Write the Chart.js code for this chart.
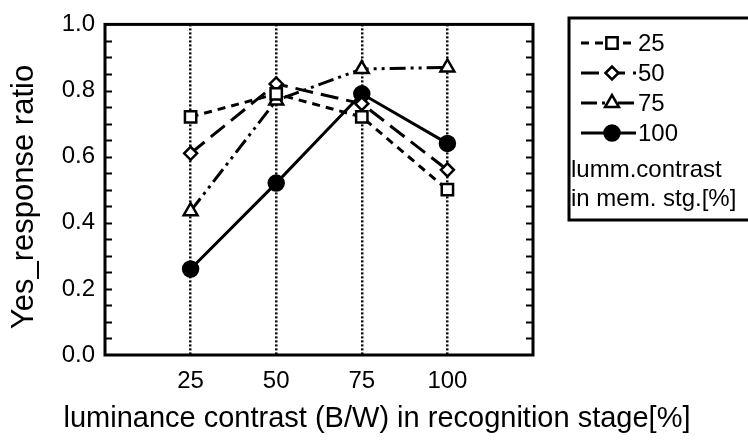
<!DOCTYPE html>
<html lang="en">
<head>
  <meta charset="UTF-8">
  <title>Yes_response ratio vs luminance contrast</title>
  <script src="https://cdn.jsdelivr.net/npm/chart.js@4.4.0/dist/chart.umd.min.js"></script>
  <style>
    html, body { margin: 0; padding: 0; background: #fff; }
    #wrap { width: 748px; height: 442px; }
  </style>
</head>
<body>
  <div id="wrap"><canvas id="chart" width="748" height="442"></canvas></div>

  <script>
    // Recognition-stage contrast (x) and one series per memory-stage contrast
    const xValues = [25, 50, 75, 100];
    const xTickValues = [25, 50, 75, 100];
    const series25 = [0.72, 0.79, 0.72, 0.50];
    const series50 = [0.61, 0.82, 0.76, 0.56];
    const series75 = [0.435, 0.77, 0.865, 0.87];
    const series100 = [0.26, 0.52, 0.79, 0.64];
    const seriesLabels = ['25', '50', '75', '100'];
    const legendNote = ['lumm.contrast', 'in mem. stg.[%]'];
    const xTitle = 'luminance contrast (B/W) in recognition stage[%]';
    const yTitle = 'Yes_response ratio';

    const FONT = '"Liberation Sans", Arial, Helvetica, sans-serif';

    function toPoints(ys) {
      return xValues.map((x, i) => ({ x: x, y: ys[i] }));
    }

    const datasets = [
      { label: seriesLabels[0], data: toPoints(series25), borderDash: [8, 6],
        pointStyle: 'rect', pointRadius: 8, pointBackgroundColor: '#fff' },
      { label: seriesLabels[1], data: toPoints(series50), borderDash: [18, 8],
        pointStyle: 'rectRot', pointRadius: 6.5, pointBackgroundColor: '#fff' },
      { label: seriesLabels[2], data: toPoints(series75), borderDash: [16, 5, 3, 5, 3, 5],
        pointStyle: 'triangle', pointRadius: 8, pointBackgroundColor: '#fff' },
      { label: seriesLabels[3], data: toPoints(series100), borderDash: [],
        pointStyle: 'circle', pointRadius: 7.5, pointBackgroundColor: '#000' }
    ].map(d => Object.assign({
      borderColor: '#000',
      borderWidth: 3,
      pointBorderColor: '#000',
      pointBorderWidth: 2.5,
      pointHoverRadius: d.pointRadius,
      tension: 0,
      fill: false
    }, d));

    // frame, inward y ticks, axis titles and the boxed legend
    const decorPlugin = {
      id: 'decor',
      beforeDraw(chart) {
        const ctx = chart.ctx;
        ctx.save();
        ctx.fillStyle = '#fff';
        ctx.fillRect(0, 0, chart.width, chart.height);
        ctx.restore();
      },
      afterDraw(chart) {
        const ctx = chart.ctx;
        const a = chart.chartArea;
        const ys = chart.scales.y;
        ctx.save();
        ctx.strokeStyle = '#000';
        ctx.fillStyle = '#000';

        // plot frame
        ctx.lineWidth = 3;
        ctx.strokeRect(a.left, a.top, a.right - a.left, a.bottom - a.top);

        // minor ticks pointing inward on both sides
        ctx.lineWidth = 2;
        for (let i = 1; i < 20; i++) {
          const py = Math.round(ys.getPixelForValue(i * 0.05)) + 0.5;
          ctx.beginPath();
          ctx.moveTo(a.left, py); ctx.lineTo(a.left + 7, py);
          ctx.moveTo(a.right, py); ctx.lineTo(a.right - 7, py);
          ctx.stroke();
        }

        // axis titles
        ctx.font = '29px ' + FONT;
        ctx.textAlign = 'center';
        ctx.textBaseline = 'alphabetic';
        ctx.fillText(xTitle, 377, 427);

        ctx.save();
        ctx.translate(33, 197);
        ctx.rotate(-Math.PI / 2);
        ctx.font = '31px ' + FONT;
        ctx.fillText(yTitle, 0, 0);
        ctx.restore();

        // legend box
        ctx.lineWidth = 3;
        ctx.strokeRect(569, 18, 200, 202);
        ctx.font = '24px ' + FONT;
        ctx.textAlign = 'left';
        ctx.textBaseline = 'middle';
        const rowY = [43, 73, 103, 133];
        chart.data.datasets.forEach((ds, i) => {
          const y = rowY[i];
          ctx.save();
          ctx.lineWidth = 3;
          ctx.setLineDash(ds.borderDash);
          ctx.beginPath();
          ctx.moveTo(581, y); ctx.lineTo(636, y);
          ctx.stroke();
          ctx.restore();
          const meta = chart.getDatasetMeta(i);
          const el = meta.data[0];
          const opts = Object.assign({}, el.options, { borderWidth: 2.5 });
          if (Chart.helpers && Chart.helpers.drawPoint) {
            ctx.save();
            ctx.fillStyle = opts.backgroundColor;
            ctx.strokeStyle = opts.borderColor;
            ctx.lineWidth = opts.borderWidth;
            ctx.setLineDash([]);
            Chart.helpers.drawPoint(ctx, opts, 612, y);
            ctx.restore();
          }
          ctx.fillText(ds.label, 638, y + 1);
        });
        ctx.textBaseline = 'alphabetic';
        ctx.fillText(legendNote[0], 571, 177);
        ctx.fillText(legendNote[1], 571, 206);
        ctx.restore();
      }
    };

    new Chart(document.getElementById('chart'), {
      type: 'line',
      data: { datasets: datasets },
      options: {
        responsive: false,
        animation: false,
        layout: { padding: { top: 18, right: 215, left: 0, bottom: 0 } },
        plugins: {
          legend: { display: false },
          tooltip: { enabled: false }
        },
        scales: {
          x: {
            type: 'linear',
            min: 0,
            max: 125,
            afterBuildTicks: scale => {
              scale.ticks = [0].concat(xTickValues, [125]).map(v => ({ value: v }));
            },
            afterFit: scale => { scale.height = 87; },
            ticks: {
              color: '#000',
              padding: 12,
              font: { family: FONT, size: 24 },
              callback: v => (v === 0 || v === 125) ? '' : String(v)
            },
            grid: {
              drawTicks: false,
              lineWidth: 2.5,
              color: ctx => (ctx.tick && (ctx.tick.value === 0 || ctx.tick.value === 125)) ? 'rgba(0,0,0,0)' : '#000'
            },
            border: { display: false, dash: [2, 2] }
          },
          y: {
            min: 0,
            max: 1,
            afterFit: scale => { scale.width = 105; },
            ticks: {
              stepSize: 0.2,
              color: '#000',
              padding: 10,
              font: { family: FONT, size: 24 },
              callback: v => Number(v).toFixed(1)
            },
            grid: { display: false, drawTicks: false },
            border: { display: false }
          }
        }
      },
      plugins: [decorPlugin]
    });
  </script>
</body>
</html>
